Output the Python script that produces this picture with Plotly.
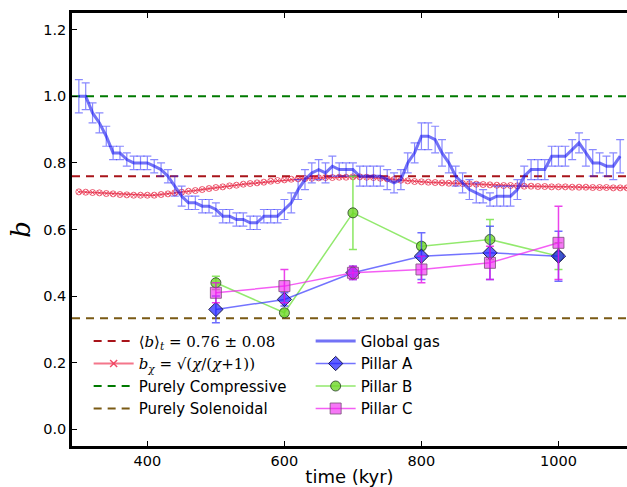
import plotly.graph_objects as go

# ---- data ----
t_gas = [300, 310, 320, 330, 340, 350, 360, 370, 380, 390,
         400, 410, 420, 430, 440, 450, 460, 470, 480, 490,
         500, 510, 520, 530, 540, 550, 560, 570, 580, 590,
         600, 610, 620, 630, 640, 650, 660, 670, 680, 690,
         700, 710, 720, 730, 740, 750, 760, 770, 780, 790,
         800, 810, 820, 830, 840, 850, 860, 870, 880, 890,
         900, 910, 920, 930, 940, 950, 960, 970, 980, 990,
         1000, 1010, 1020, 1030, 1040, 1050, 1060, 1070, 1080, 1090]
b_gas = [1.00, 1.00, 0.95, 0.92, 0.88, 0.83, 0.83, 0.81, 0.80, 0.80,
         0.80, 0.79, 0.78, 0.76, 0.73, 0.70, 0.68, 0.68, 0.67, 0.67,
         0.66, 0.64, 0.64, 0.63, 0.63, 0.62, 0.62, 0.64, 0.64, 0.64,
         0.66, 0.68, 0.72, 0.75, 0.77, 0.78, 0.77, 0.79, 0.78, 0.78,
         0.78, 0.76, 0.76, 0.76, 0.76, 0.75, 0.74, 0.75, 0.80, 0.83,
         0.88, 0.88, 0.87, 0.83, 0.80, 0.76, 0.74, 0.72, 0.71, 0.70,
         0.69, 0.70, 0.70, 0.70, 0.72, 0.76, 0.78, 0.78, 0.78, 0.82,
         0.82, 0.82, 0.84, 0.86, 0.83, 0.80, 0.80, 0.79, 0.79, 0.82]
e_gas = [0.05, 0.04, 0.03, 0.03, 0.03, 0.02, 0.02, 0.02, 0.02, 0.02,
         0.02, 0.02, 0.02, 0.02, 0.03, 0.03, 0.02, 0.02, 0.02, 0.02,
         0.02, 0.02, 0.02, 0.02, 0.02, 0.02, 0.02, 0.02, 0.02, 0.02,
         0.03, 0.03, 0.03, 0.03, 0.03, 0.03, 0.03, 0.03, 0.02, 0.02,
         0.02, 0.03, 0.03, 0.03, 0.03, 0.03, 0.03, 0.03, 0.03, 0.03,
         0.04, 0.04, 0.04, 0.04, 0.03, 0.03, 0.03, 0.03, 0.03, 0.02,
         0.02, 0.03, 0.03, 0.03, 0.03, 0.03, 0.03, 0.03, 0.03, 0.03,
         0.03, 0.03, 0.03, 0.03, 0.04, 0.04, 0.03, 0.03, 0.04, 0.05]

t_chi = [300, 310, 320, 330, 340, 350, 360, 370, 380, 390,
         400, 410, 420, 430, 440, 450, 460, 470, 480, 490,
         500, 510, 520, 530, 540, 550, 560, 570, 580, 590,
         600, 610, 620, 630, 640, 650, 660, 670, 680, 690,
         700, 710, 720, 730, 740, 750, 760, 770, 780, 790,
         800, 810, 820, 830, 840, 850, 860, 870, 880, 890,
         900, 910, 920, 930, 940, 950, 960, 970, 980, 990,
         1000, 1010, 1020, 1030, 1040, 1050, 1060, 1070, 1080, 1090, 1100]
b_chi = [0.713, 0.712, 0.711, 0.710, 0.708, 0.707, 0.705, 0.704, 0.703, 0.703,
         0.703, 0.703, 0.705, 0.707, 0.710, 0.712, 0.715, 0.717, 0.720, 0.723,
         0.726, 0.728, 0.731, 0.733, 0.736, 0.738, 0.740, 0.742, 0.745, 0.747,
         0.749, 0.751, 0.752, 0.753, 0.754, 0.755, 0.756, 0.756, 0.757, 0.757,
         0.758, 0.758, 0.757, 0.756, 0.754, 0.752, 0.750, 0.748, 0.746, 0.744,
         0.743, 0.742, 0.741, 0.740, 0.739, 0.739, 0.738, 0.737, 0.736, 0.735,
         0.734, 0.733, 0.732, 0.732, 0.731, 0.730, 0.730, 0.729, 0.729, 0.728,
         0.728, 0.728, 0.727, 0.727, 0.727, 0.726, 0.726, 0.726, 0.725, 0.725, 0.725]

t_pillar = [500, 600, 700, 800, 900, 1000]
b_A = [0.36, 0.39, 0.47, 0.52, 0.53, 0.52]
e_A = [0.04, 0.02, 0.02, 0.07, 0.08, 0.075]
b_B = [0.44, 0.35, 0.65, 0.55, 0.57, 0.52]
e_B = [0.02, 0.01, 0.11, 0.01, 0.06, 0.04]
b_C = [0.41, 0.43, 0.47, 0.48, 0.50, 0.56]
e_C = [0.03, 0.05, 0.02, 0.04, 0.05, 0.11]

b_mean = 0.76
b_comp = 1.0
b_sol = 1.0 / 3.0
x_span = [290, 1100]

fig = go.Figure()

serif = "DejaVu Serif"

# horizontal reference lines (legend 1)
fig.add_trace(go.Scatter(x=x_span, y=[b_mean, b_mean], mode="lines",
                         line=dict(color="#a8141a", width=2, dash="8px,6px"),
                         name="<span style='font-family:DejaVu Serif'>⟨<i>b</i>⟩<sub><i>t</i></sub> = 0.76 ± 0.08</span>",
                         legend="legend", legendrank=1))
fig.add_trace(go.Scatter(x=x_span, y=[b_comp, b_comp], mode="lines",
                         line=dict(color="#007a00", width=2, dash="8px,6px"),
                         name="Purely Compressive", legend="legend", legendrank=3))
fig.add_trace(go.Scatter(x=x_span, y=[b_sol, b_sol], mode="lines",
                         line=dict(color="#7a5a14", width=2, dash="8px,6px"),
                         name="Purely Solenoidal", legend="legend", legendrank=4))

# b_chi curve
fig.add_trace(go.Scatter(x=t_chi, y=b_chi, mode="lines+markers",
                         line=dict(color="rgba(230,30,60,0.7)", width=1.5),
                         marker=dict(symbol="circle-x-open", size=6,
                                     color="rgba(230,30,60,0.7)", line=dict(width=1)),
                         showlegend=False))
fig.add_trace(go.Scatter(x=[None], y=[None], mode="lines+markers",
                         line=dict(color="rgba(240,60,90,0.7)", width=2),
                         marker=dict(symbol="x-thin-open", size=7, color="rgba(240,60,90,0.9)",
                                     line=dict(width=1.5, color="rgba(240,60,90,0.9)")),
                         name="<span style='font-family:DejaVu Serif'><i>b</i><sub><i>χ</i></sub> = √(<i>χ</i>/(<i>χ</i>+1))</span>",
                         legend="legend", legendrank=2))

# global gas
fig.add_trace(go.Scatter(x=t_gas, y=b_gas, mode="lines",
                         line=dict(color="rgba(20,20,240,0.6)", width=3),
                         error_y=dict(type="data", array=e_gas, color="rgba(40,40,255,0.55)",
                                      thickness=1.2, width=4),
                         name="Global gas", legend="legend2", legendrank=1))

# pillars
fig.add_trace(go.Scatter(x=t_pillar, y=b_B, mode="lines+markers",
                         line=dict(color="rgba(110,225,60,0.75)", width=1.5),
                         marker=dict(symbol="circle", size=10, color="rgba(110,215,40,0.8)",
                                     line=dict(color="rgba(40,60,40,0.8)", width=1)),
                         error_y=dict(type="data", array=e_B, color="rgba(110,225,60,0.8)",
                                      thickness=1.5, width=4),
                         name="Pillar B", legend="legend2", legendrank=3))
fig.add_trace(go.Scatter(x=t_pillar, y=b_A, mode="lines+markers",
                         line=dict(color="rgba(40,40,255,0.65)", width=1.5),
                         marker=dict(symbol="diamond", size=11, color="rgba(30,30,255,0.7)",
                                     line=dict(color="rgba(20,20,60,0.9)", width=1)),
                         error_y=dict(type="data", array=e_A, color="rgba(60,60,255,0.75)",
                                      thickness=1.5, width=4),
                         name="Pillar A", legend="legend2", legendrank=2))
fig.add_trace(go.Scatter(x=t_pillar, y=b_C, mode="lines+markers",
                         line=dict(color="rgba(240,40,240,0.75)", width=1.5),
                         marker=dict(symbol="square", size=11, color="rgba(240,30,240,0.6)",
                                     line=dict(color="rgba(120,80,120,0.8)", width=1)),
                         error_y=dict(type="data", array=e_C, color="rgba(230,20,230,0.8)",
                                      thickness=1.5, width=4),
                         name="Pillar C", legend="legend2", legendrank=4))

fig.update_layout(
    width=627, height=487,
    margin=dict(l=72, r=0, t=13, b=41),
    paper_bgcolor="white", plot_bgcolor="white",
    font=dict(family="DejaVu Sans", size=14.5, color="black"),
    xaxis=dict(range=[290, 1100], tickvals=[400, 600, 800, 1000],
               ticks="inside", ticklen=5, tickwidth=1, tickcolor="black",
               showline=True, linewidth=2.5, linecolor="black", mirror="ticks",
               showgrid=False, zeroline=False, automargin=False,
               title=dict(text="time (kyr)", font=dict(size=18), standoff=8)),
    yaxis=dict(range=[-0.05, 1.25], tickvals=[0.0, 0.2, 0.4, 0.6, 0.8, 1.0, 1.2],
               tickformat=".1f",
               ticks="inside", ticklen=5, tickwidth=1, tickcolor="black",
               showline=True, linewidth=2.5, linecolor="black", mirror=False,
               showgrid=False, zeroline=False, automargin=False,
               title=dict(text="<i>b</i>", font=dict(size=26, family=serif), standoff=6)),
    legend=dict(x=0.03, y=0.28, xanchor="left", yanchor="top",
                bgcolor="rgba(0,0,0,0)", font=dict(size=15), itemwidth=40,
                traceorder="normal"),
    legend2=dict(x=0.43, y=0.28, xanchor="left", yanchor="top",
                 bgcolor="rgba(0,0,0,0)", font=dict(size=15), itemwidth=40,
                 traceorder="normal"),
)

fig.write_html("out.html")
